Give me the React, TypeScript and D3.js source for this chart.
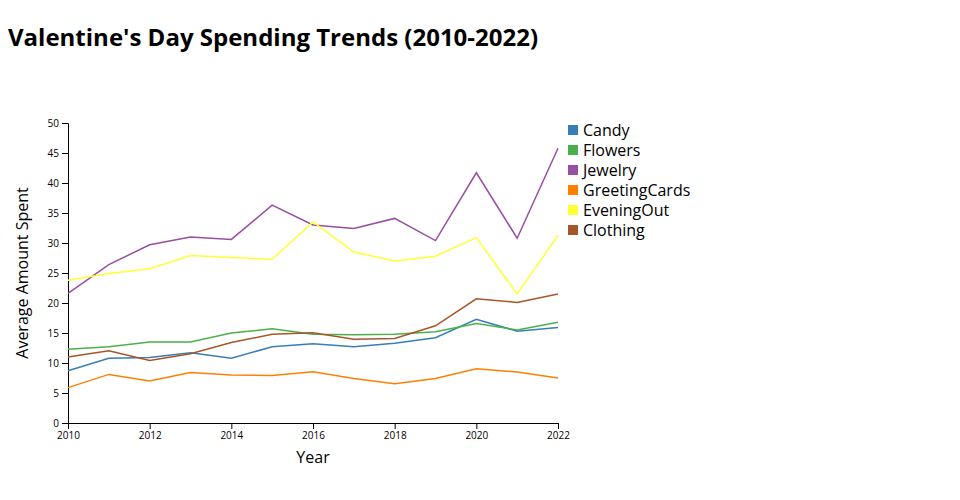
import React, { useEffect, useRef } from 'react';
import * as d3 from 'd3';

const years = [2010, 2011, 2012, 2013, 2014, 2015, 2016, 2017, 2018, 2019, 2020, 2021, 2022];
const categories = ['Candy', 'Flowers', 'Jewelry', 'GreetingCards', 'EveningOut', 'Clothing'];

const candy = [8.7, 10.8, 10.9, 11.7, 10.8, 12.7, 13.2, 12.7, 13.3, 14.2, 17.3, 15.3, 15.9];
const flowers = [12.3, 12.7, 13.5, 13.5, 15.0, 15.7, 14.8, 14.7, 14.8, 15.2, 16.6, 15.5, 16.8];
const jewelry = [21.6, 26.4, 29.7, 31.0, 30.6, 36.3, 33.0, 32.4, 34.1, 30.4, 41.7, 30.8, 45.8];
const greetingCards = [5.9, 8.1, 7.0, 8.4, 8.0, 7.9, 8.55, 7.4, 6.55, 7.4, 9.05, 8.5, 7.5];
const eveningOut = [23.8, 24.9, 25.7, 27.9, 27.6, 27.3, 33.5, 28.5, 27.0, 27.8, 30.9, 21.5, 31.3];
const clothing = [11.0, 12.05, 10.4, 11.55, 13.4, 14.8, 15.05, 13.95, 14.1, 16.2, 20.7, 20.1, 21.5];

const seriesValues = [candy, flowers, jewelry, greetingCards, eveningOut, clothing];

export default function App() {
    const svgRef = useRef<SVGSVGElement>(null);

    useEffect(() => {
        if (!svgRef.current) return;
        const svg = d3.select(svgRef.current);
        svg.selectAll("*").remove();

        const margin = { top: 123, left: 68 };
        const width = 490;
        const height = 300;
        const font = "'Open Sans', sans-serif";

        svg.append("text")
            .attr("x", 8)
            .attr("y", 46)
            .attr("font-family", font)
            .attr("font-weight", "bold")
            .attr("font-size", 24)
            .attr("fill", "#000")
            .text("Valentine's Day Spending Trends (2010-2022)");

        const g = svg.append("g")
            .attr("transform", `translate(${margin.left},${margin.top})`);

        const x = d3.scaleLinear().domain([2010, 2022]).range([0, width]);
        const y = d3.scaleLinear().domain([0, 50]).range([height, 0]);
        // Set1 without the red
        const color = d3.scaleOrdinal<string>().domain(categories).range(d3.schemeSet1.slice(1));

        const xAxis = g.append("g")
            .attr("transform", `translate(0,${height})`)
            .call(d3.axisBottom(x).ticks(6).tickFormat(d3.format("d")));
        const yAxis = g.append("g")
            .call(d3.axisLeft(y).ticks(10));
        [xAxis, yAxis].forEach(a => a.selectAll("text").attr("font-family", font).attr("font-size", 10));

        const line = d3.line<number>()
            .x((_, i) => x(years[i]))
            .y(d => y(d));

        categories.forEach((c, i) => {
            g.append("path")
                .datum(seriesValues[i])
                .attr("fill", "none")
                .attr("stroke", color(c))
                .attr("stroke-width", 1.5)
                .attr("d", line);
        });

        svg.append("text")
            .attr("x", margin.left + width / 2)
            .attr("y", 463)
            .attr("text-anchor", "middle")
            .attr("font-family", font)
            .attr("font-size", 16)
            .text("Year");

        svg.append("text")
            .attr("transform", `translate(28,${margin.top + height / 2}) rotate(-90)`)
            .attr("text-anchor", "middle")
            .attr("font-family", font)
            .attr("font-size", 16)
            .text("Average Amount Spent");

        const legend = svg.append("g")
            .attr("transform", `translate(568,125)`);
        categories.forEach((c, i) => {
            const row = legend.append("g").attr("transform", `translate(0,${i * 20})`);
            row.append("rect")
                .attr("width", 10)
                .attr("height", 10)
                .attr("fill", color(c));
            row.append("text")
                .attr("x", 15)
                .attr("y", 11)
                .attr("font-family", font)
                .attr("font-size", 16)
                .text(c);
        });
    }, []);

    return (
        <div style={{ position: 'absolute', left: 0, top: 0 }}>
            <svg ref={svgRef} width={960} height={500} />
        </div>
    );
}
